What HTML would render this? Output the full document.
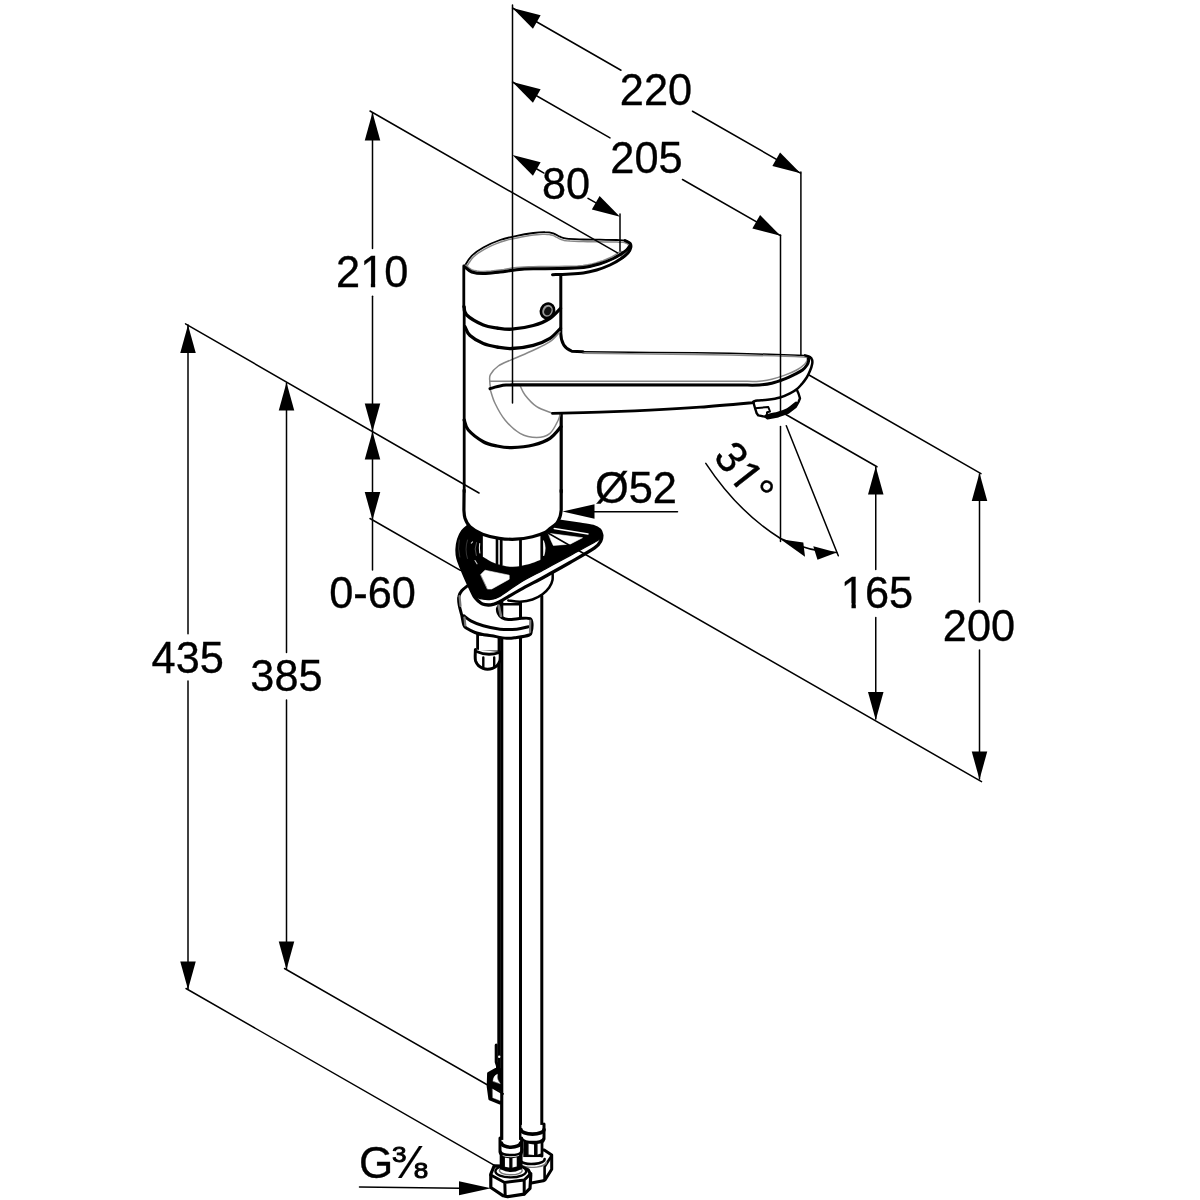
<!DOCTYPE html>
<html lang="en"><head><meta charset="utf-8"><title>Dimensional drawing</title>
<style>
html,body{margin:0;padding:0;background:#fff;}
body{width:1200px;height:1200px;overflow:hidden;}
svg{display:block;will-change:transform;}
text{font-family:"Liberation Sans",Arial,Helvetica,sans-serif;fill:#000;stroke:#000;stroke-width:0.35px;}
path,line{stroke-linecap:round;stroke-linejoin:round;}
</style></head><body>
<svg width="1200" height="1200" viewBox="0 0 1200 1200">
<rect width="1200" height="1200" fill="#fff"/>
<g id="faucet">
<g id="hoses">
<path d="M503 598 L503 1146 L520.5 1146 L520.5 598 Z" stroke="#fff" stroke-width="0.1" fill="#fff" />
<path d="M520.5 596 L520.5 1133 L541.8 1133 L541.8 596 Z" stroke="#fff" stroke-width="0.1" fill="#fff" />
<line x1="501.7" y1="600" x2="501.7" y2="1146" stroke="#000" stroke-width="3.2"/>
<line x1="498.7" y1="640" x2="498.7" y2="1072" stroke="#000" stroke-width="2.8"/>
<line x1="520.5" y1="600" x2="520.5" y2="1146" stroke="#000" stroke-width="3.0"/>
<line x1="541.8" y1="596" x2="541.8" y2="1133" stroke="#000" stroke-width="3.0"/>
</g>
<g id="handle">
<path d="M465.0 265.5 C466.0 263.6 468.6 258.8 471.7 255.8 C474.8 252.8 478.6 250.1 483.3 247.5 C488.0 244.9 494.4 241.9 500.0 240.0 C505.6 238.1 511.2 237.0 516.7 235.8 C522.2 234.6 528.6 233.6 533.3 233.0 C538.0 232.4 541.7 232.1 545.0 232.2 C548.3 232.2 550.8 232.6 553.3 233.3 C555.8 234.1 557.8 235.8 560.0 236.7 C562.2 237.6 562.8 238.2 566.7 238.7 C570.6 239.2 577.8 239.3 583.3 239.5 C588.8 239.7 594.4 239.6 600.0 239.7 C605.6 239.8 612.5 239.9 616.7 240.0 C620.9 240.1 622.8 239.9 625.0 240.5 C627.2 241.1 629.0 242.1 630.0 243.3 C631.0 244.5 631.1 246.0 630.8 247.5 C630.5 249.0 629.8 250.7 628.3 252.5 C626.8 254.3 622.8 258.1 621.7 258.3 C620.6 258.5 623.1 253.5 621.7 253.5 C620.3 253.5 616.9 256.8 613.3 258.5 C609.7 260.2 605.0 262.3 600.0 263.8 C595.0 265.3 590.2 266.7 583.3 267.5 C576.3 268.3 566.6 268.4 558.3 268.6 C550.0 268.8 540.2 268.6 533.3 268.8 C526.4 269.0 522.2 269.2 516.7 269.7 C511.2 270.2 505.6 271.4 500.0 272.0 C494.4 272.6 488.0 273.6 483.3 273.6 C478.6 273.6 474.7 273.0 471.7 272.0 C468.7 271.0 466.6 268.6 465.5 267.5 C464.4 266.4 464.0 267.4 465.0 265.5Z" stroke="#000" stroke-width="1.8" fill="#fff" />
<path d="M466.8 266.5 L467.9 264.6 L469.4 262.2 L471.2 259.6 L473.2 257.3 L475.5 255.2 L478.1 253.2 L481.0 251.3 L484.3 249.3 L488.1 247.4 L492.2 245.4 L496.5 243.6 L500.7 242.0 L504.8 240.7 L508.8 239.6 L513.0 238.7 L517.1 237.9 L521.4 237.0 L525.7 236.3 L529.8 235.6 L533.6 235.1 L536.9 234.7 L539.8 234.5 L542.5 234.3 L545.0 234.3 L547.2 234.4 L549.2 234.6 L551.0 234.9 L552.6 235.3 L554.2 235.9 L555.7 236.8 L557.4 237.7 L559.1 238.6 L560.6 239.3 L562.0 239.8 L563.9 240.4 L566.5 240.8 L570.0 241.1 L574.3 241.3 L578.8 241.5 L583.2 241.6 L587.4 241.7 L591.6 241.7 L595.8 241.8 L600.0 241.8 L604.3 241.9 L608.8 241.9 L613.1 242.0 L616.7 242.1 L619.4 242.2 L621.5 242.2 L623.1 242.3 L624.5 242.5 L625.8 243.0 L626.9 243.5 L627.8 244.1 L628.4 244.6 L628.7 245.1 L628.8 245.6 L628.8 246.3 L628.7 247.1 L628.5 248.0 L628.1 249.0 L627.5 250.0 L626.7 251.1 L625.3 252.7 L623.4 254.5 L621.7 255.9 L621.6 256.2 L623.5 257.7 L623.9 256.4 L624.2 254.2 L621.9 251.4 L619.3 252.2 L617.2 253.6 L614.8 255.2 L612.3 256.6 L609.5 257.9 L606.4 259.3 L603.0 260.6 L599.4 261.8 L595.7 262.9 L591.9 263.9 L587.8 264.7 L583.1 265.4 L577.5 265.9 L571.2 266.2 L564.7 266.3 L558.3 266.5 L551.8 266.6 L545.3 266.6 L538.9 266.6 L533.3 266.7 L528.5 266.8 L524.4 267.0 L520.5 267.3 L516.5 267.6 L512.3 268.1 L508.0 268.7 L503.9 269.4 L499.7 269.9 L495.5 270.4 L491.1 271.0 L487.0 271.3 L483.3 271.5 L480.1 271.4 L477.1 271.1 L474.6 270.6 L472.4 270.0 L470.7 269.2 L469.2 268.1 L468.0 267.0 L466.9 265.9 L465.9 265.2 L466.2 265.7 L466.4 267.3Z" stroke="#888888" stroke-width="1.5" fill="none" />
<path d="M629.3 246.5 C628.8 247.1 627.8 248.8 626.5 250.0 C625.2 251.2 623.9 252.1 621.7 253.5 C619.5 254.9 616.9 256.8 613.3 258.5 C609.7 260.2 605.0 262.3 600.0 263.8 C595.0 265.3 590.2 266.7 583.3 267.5 C576.3 268.3 566.6 268.4 558.3 268.6 C550.0 268.8 540.2 268.6 533.3 268.8 C526.4 269.0 522.2 269.2 516.7 269.7 C511.2 270.2 505.6 271.4 500.0 272.0 C494.4 272.6 488.0 273.6 483.3 273.6 C478.6 273.6 474.7 273.0 471.7 272.0 C468.7 271.0 466.5 268.2 465.5 267.5" stroke="#000" stroke-width="3.0" fill="none" />
<path d="M552.5 274.7 C554.9 274.6 561.6 274.5 566.7 274.2 C571.8 273.9 578.3 273.7 583.3 273.0 C588.3 272.3 592.2 271.3 596.7 270.0 C601.2 268.7 605.8 266.9 610.0 265.0 C614.2 263.1 618.7 260.4 621.7 258.3 C624.8 256.2 626.8 254.3 628.3 252.5 C629.8 250.7 630.5 249.0 630.8 247.5 C631.1 246.0 631.0 244.5 630.0 243.3 C629.0 242.1 625.8 241.0 625.0 240.5" stroke="#000" stroke-width="3.0" fill="none" />
</g>
<g id="body">
<path d="M463.8 266 L463.8 307 M464.2 307 L464.2 492" stroke="#000" stroke-width="2.8" fill="none" />
<path d="M560.8 275 L560.8 333.3 C561 342 563.5 348.3 571.7 351.2 L583 351.8" stroke="#000" stroke-width="3.0" fill="none" />
<path d="M561.2 414 L561.2 492" stroke="#000" stroke-width="3.2" fill="none" />
<path d="M464.0 306.7 C464.4 308.1 463.5 311.9 466.7 315.0 C469.9 318.1 478.2 322.8 483.3 325.0 C488.4 327.2 492.3 327.3 497.0 328.0 C501.7 328.7 505.6 329.6 511.7 329.2 C517.8 328.8 526.9 327.3 533.3 325.5 C539.7 323.7 545.5 321.2 550.0 318.3 C554.5 315.4 558.8 310.0 560.5 308.3" stroke="#000" stroke-width="3.3" fill="none" />
<path d="M465.0 326.7 C465.8 328.2 466.9 332.7 470.0 335.5 C473.1 338.3 478.8 341.7 483.3 343.6 C487.8 345.5 492.3 346.2 497.0 347.0 C501.7 347.8 505.6 348.8 511.7 348.5 C517.8 348.2 526.9 347.0 533.3 345.3 C539.7 343.6 545.5 341.1 550.0 338.3 C554.5 335.5 558.8 330.0 560.5 328.3" stroke="#000" stroke-width="3.3" fill="none" />
<path d="M464.2 420.0 C464.9 421.7 465.1 426.4 468.3 430.0 C471.5 433.6 478.5 439.0 483.3 441.7 C488.1 444.4 492.3 445.0 497.0 446.0 C501.7 447.0 505.6 447.8 511.7 447.6 C517.8 447.4 526.9 446.6 533.3 445.0 C539.7 443.4 545.4 441.4 550.0 438.3 C554.6 435.2 559.2 428.6 561.0 426.7" stroke="#000" stroke-width="3.3" fill="none" />
<ellipse cx="547.5" cy="310.8" rx="6.4" ry="7.4" transform="rotate(25 547.5 310.8)" fill="#999" stroke="#000" stroke-width="2.6"/>
<ellipse cx="547.8" cy="311" rx="3.4" ry="4.4" transform="rotate(25 547.8 311)" fill="#111"/>
<path d="M490.6 388.7 C490.5 387.5 489.8 384.0 489.8 381.7 C489.8 379.4 489.0 377.2 490.4 374.6 C491.8 372.0 494.8 368.5 498.3 366.0 C501.9 363.5 505.9 362.2 511.7 359.6 C517.5 357.0 526.9 353.2 533.3 350.2 C539.7 347.2 545.5 344.8 550.0 341.7 C554.5 338.6 558.3 333.4 560.0 331.7" stroke="#888888" stroke-width="1.5" fill="none" />
<path d="M490.0 388.7 C490.8 391.1 492.5 398.1 495.0 403.3 C497.5 408.5 500.8 415.0 505.0 420.0 C509.2 425.0 514.7 430.4 520.0 433.3 C525.3 436.2 531.7 437.5 536.7 437.5 C541.7 437.5 546.4 436.2 550.0 433.3 C553.6 430.4 556.6 423.2 558.3 420.0 C560.0 416.8 559.7 415.2 560.0 414.2" stroke="#888888" stroke-width="1.5" fill="none" />
<path d="M520.0 385.3 C520.8 386.9 522.2 391.4 525.0 395.0 C527.8 398.6 532.2 403.7 536.7 406.7 C541.2 409.7 549.2 411.9 551.7 413.0" stroke="#888888" stroke-width="1.5" fill="none" />
</g>
<g id="spout">
<path d="M583.0 351.7 C594.2 351.8 625.5 352.2 650.0 352.5 C674.5 352.8 704.2 352.8 730.0 353.3 C755.8 353.8 792.5 355.0 805.0 355.4" stroke="#000" stroke-width="1.5" fill="none" />
<path d="M583.0 353.2 C594.2 353.3 625.5 353.7 650.0 354.0 C674.5 354.3 704.5 354.4 730.0 354.9 C755.5 355.4 790.1 356.4 803.0 357.0 C815.9 357.6 806.8 358.2 807.5 358.4" stroke="#888888" stroke-width="1.5" fill="none" />
<path d="M805.0 355.4 C805.8 355.7 808.8 356.3 810.0 357.1 C811.2 357.9 811.8 358.8 812.1 360.0 C812.5 361.2 812.5 362.4 812.1 364.2 C811.8 366.0 810.9 368.6 810.0 370.8 C809.1 373.0 808.1 375.3 806.7 377.5 C805.3 379.7 803.4 382.2 801.7 384.2 C800.0 386.1 798.7 387.7 796.7 389.2 C794.8 390.7 792.8 391.9 790.0 393.3 C787.2 394.7 783.8 396.4 780.0 397.5 C776.2 398.6 771.2 399.3 767.5 399.8 C763.8 400.3 759.9 400.3 757.5 400.6 C755.1 400.9 754.0 401.4 753.3 401.6" stroke="#000" stroke-width="2.5" fill="none" />
<path d="M490 381.3 L745 381.3  L745.0 381.3 C747.4 381.3 754.8 381.6 759.2 381.2 C763.7 380.8 767.5 380.2 771.7 379.2 C775.9 378.2 780.0 376.9 784.2 375.4 C788.4 373.9 793.3 371.9 796.7 370.0 C800.1 368.1 802.9 365.8 804.6 364.2 C806.3 362.6 806.6 361.5 807.0 360.6 C807.4 359.7 807.2 359.1 807.2 358.8" stroke="#888888" stroke-width="1.5" fill="none" />
<path d="M490.0 388.7 C490.8 388.4 493.3 387.6 495.0 387.1 C496.7 386.6 498.2 386.2 500.0 385.9 C501.8 385.6 504.0 385.3 506.0 385.1 C508.0 384.9 511.0 384.9 512.0 384.8 L745 385.1  L745.0 385.1 C747.4 385.1 754.8 385.3 759.2 385.0 C763.7 384.7 767.5 384.3 771.7 383.3 C775.9 382.3 780.3 380.7 784.2 379.2 C788.1 377.7 792.0 375.7 795.0 374.2 C798.0 372.7 800.5 371.5 802.5 370.0 C804.5 368.5 806.0 366.5 807.0 365.0 C808.0 363.5 808.4 362.1 808.6 361.0 C808.8 359.9 808.4 359.0 808.4 358.6" stroke="#000" stroke-width="3.0" fill="none" />
<path d="M552.5 413.4 C560.4 413.2 583.8 412.7 600.0 412.2 C616.2 411.7 633.3 411.0 650.0 410.2 C666.7 409.4 682.8 408.5 700.0 407.2 C717.2 405.9 744.4 403.4 753.3 402.6" stroke="#000" stroke-width="2.8" fill="none" />
<path d="M753.3 402.0 L755.0 408.0 L756.7 413.3 L758.3 415.4 L765.8 416.9 L767.5 418.3 L778.3 416.2 L788.3 412.5 L795.8 406.7 L798.5 402.0 L800.0 398.3 L798.5 393.5 L796.7 389.6" stroke="#000" stroke-width="2.4" fill="none" />
<path d="M766.5 416.2 C768.4 415.8 774.4 414.8 778.0 413.8 C781.6 412.8 785.0 411.7 788.0 410.0 C791.0 408.3 794.7 404.8 796.0 403.8" stroke="#000" stroke-width="4.2" fill="none" />
<path d="M755.0 408.3 L768.3 407.0 L770.0 411.5 L767.0 412.3 L767.0 414.5" stroke="#000" stroke-width="2.0" fill="none" />
<path d="M759 411.6 L766.5 410.8" stroke="#fff" stroke-width="1.0" fill="none" />
</g>
<g id="bracket">
<path d="M477.6 634 L477.6 652 L499 652 L499 636 Z" stroke="#000" stroke-width="2.8" fill="#fff" />
<path d="M475.4 649.5 C475.4 650.6 475.2 654.1 475.2 656.0 C475.2 657.9 475.1 659.4 475.6 661.0 C476.2 662.6 477.3 664.4 478.5 665.6 C479.7 666.8 481.5 667.7 483.0 668.3 C484.5 668.9 485.9 669.2 487.5 669.2 C489.1 669.2 490.9 668.9 492.5 668.3 C494.1 667.7 495.7 667.0 496.9 665.8 C498.1 664.6 499.2 662.6 499.8 661.0 C500.4 659.4 500.2 657.5 500.2 656.0 C500.2 654.5 500.0 652.7 500.0 652.0" stroke="#000" stroke-width="3.0" fill="#fff" />
<path d="M476.5 651.5 Q487.5 656.5 499.5 652.5" stroke="#000" stroke-width="2.8" fill="none" />
<path d="M483.3 657.5 L483.3 667 M494.2 657.5 L494.2 667" stroke="#000" stroke-width="2.4" fill="none" />
<path d="M467.5 585.8 C466.5 586.6 463.2 589.0 461.7 590.8 C460.2 592.6 459.2 594.3 458.8 596.7 C458.3 599.1 458.7 602.0 459.2 605.0 C459.7 608.0 460.9 611.7 461.7 615.0 C462.5 618.3 462.9 622.8 463.8 625.0 C464.6 627.2 464.8 627.0 466.7 628.3 C468.6 629.5 472.5 631.5 475.0 632.5 C477.5 633.5 478.9 633.7 481.7 634.2 C484.5 634.8 487.5 635.1 491.7 635.8 C495.9 636.5 502.5 638.0 506.7 638.3 C510.9 638.6 513.0 638.0 516.7 637.5 C520.5 637.0 526.8 636.0 529.2 635.0 C531.6 634.0 530.8 633.7 531.2 631.7 C531.7 629.8 532.2 625.5 532.0 623.3 C531.8 621.1 531.7 619.4 530.0 618.6 C528.3 617.8 525.3 618.1 521.7 618.3 C518.1 618.5 511.6 619.7 508.3 619.6 C505.0 619.5 503.4 618.5 501.7 617.5 C500.0 616.5 499.0 614.8 498.3 613.3 C497.6 611.8 497.2 609.8 497.5 608.3 C497.8 606.8 499.6 604.9 500.0 604.2 L480 598 Z" stroke="#fff" stroke-width="0.1" fill="#fff" />
<path d="M467.5 585.8 C466.5 586.6 463.2 589.0 461.7 590.8 C460.2 592.6 459.2 594.3 458.8 596.7 C458.3 599.1 458.7 602.0 459.2 605.0 C459.7 608.0 460.9 611.7 461.7 615.0 C462.5 618.3 462.9 622.8 463.8 625.0 C464.6 627.2 464.8 627.0 466.7 628.3 C468.6 629.5 472.5 631.5 475.0 632.5 C477.5 633.5 478.9 633.7 481.7 634.2 C484.5 634.8 487.5 635.1 491.7 635.8 C495.9 636.5 502.5 638.0 506.7 638.3 C510.9 638.6 513.0 638.0 516.7 637.5 C520.5 637.0 526.8 636.0 529.2 635.0 C531.6 634.0 530.8 633.7 531.2 631.7 C531.7 629.8 532.2 625.5 532.0 623.3 C531.8 621.1 531.7 619.4 530.0 618.6 C528.3 617.8 525.3 618.1 521.7 618.3 C518.1 618.5 511.6 619.7 508.3 619.6 C505.0 619.5 503.4 618.5 501.7 617.5 C500.0 616.5 499.0 614.8 498.3 613.3 C497.6 611.8 497.2 609.8 497.5 608.3 C497.8 606.8 499.6 604.9 500.0 604.2" stroke="#000" stroke-width="3.0" fill="none" />
<path d="M463.8 615.8 C464.9 616.6 467.5 619.1 470.8 620.8 C474.1 622.5 478.4 624.4 483.3 625.8 C488.2 627.2 494.4 628.6 500.0 629.2 C505.6 629.8 512.0 629.6 516.7 629.2 C521.4 628.8 526.4 627.1 528.3 626.7" stroke="#000" stroke-width="3.0" fill="none" />
<path d="M501 604.3 L519.8 604.3" stroke="#000" stroke-width="2.4" fill="none" />
<path d="M459.5 596 L460.5 606 M464.5 617.5 L465.3 625.5 M530.3 620.5 L530 632" stroke="#777" stroke-width="2.2" fill="none" />
<path d="M498.6 605.5 L501 616" stroke="#777" stroke-width="2.6" fill="none" />
</g>
<g id="plate">
<path d="M552.5 571.0 C552.5 572.5 553.0 577.2 552.5 580.0 C552.0 582.8 550.9 585.1 549.2 587.5 C547.5 589.9 545.3 592.2 542.5 594.2 C539.7 596.2 536.2 598.2 532.5 599.5 C528.8 600.8 524.0 601.6 520.0 601.8 C516.0 601.9 510.2 600.6 508.3 600.4" stroke="#000" stroke-width="2.5" fill="#fff" />
<path d="M560.8 521.3 C563.7 521.7 572.6 523.1 578.0 523.9 C583.4 524.7 589.4 525.3 593.0 526.3 C596.6 527.3 598.3 528.5 599.8 530.0 C601.3 531.5 601.5 534.4 601.9 535.3 L601.9 535.3 C601.7 536.2 602.1 538.5 600.9 540.6 C599.7 542.7 599.8 544.2 594.6 547.9 C589.5 551.5 578.3 557.7 570.0 562.5 C561.7 567.3 553.3 571.9 545.0 576.5 C536.7 581.1 527.6 585.6 520.0 589.9 C512.4 594.1 503.7 599.6 499.2 602.0 C494.7 604.4 494.8 603.9 493.0 604.4 C491.2 604.9 490.1 605.1 488.3 605.0 C486.6 604.9 484.1 604.6 482.5 604.0 C480.9 603.4 479.2 601.8 478.6 601.3 L478.6 601.3 C477.9 600.5 475.7 598.9 474.2 596.4 C472.7 593.9 471.3 590.6 469.4 586.5 C467.5 582.4 464.7 576.2 462.8 571.5 C460.9 566.8 458.9 562.0 457.9 558.3 C456.9 554.6 456.9 552.4 457.0 549.2 C457.1 546.1 457.7 542.4 458.6 539.4 C459.5 536.4 461.0 533.4 462.6 531.2 C464.2 529.0 467.1 527.0 468.0 526.2 L500 526 Z" stroke="#000" stroke-width="3.3" fill="#fff" />
<path d="M560.8 521.3 C563.7 521.7 572.6 523.1 578.0 523.9 C583.4 524.7 589.4 525.3 593.0 526.3 C596.6 527.3 598.4 528.6 599.8 530.0 C601.2 531.4 601.3 533.8 601.6 534.5 L601.6 534.5 C601.4 535.1 600.8 537.1 600.3 538.0 C599.8 538.9 603.4 537.0 598.4 539.9 C593.4 542.8 578.9 550.7 570.0 555.6 C561.1 560.5 553.3 564.7 545.0 569.2 C536.7 573.7 527.6 578.1 520.0 582.7 C512.4 587.3 504.1 593.9 499.2 596.7 C494.3 599.5 493.7 599.0 490.8 599.4 C487.9 599.8 484.4 599.4 482.0 599.0 C479.6 598.6 477.5 597.6 476.6 597.3 L476.6 597.3 C476.2 597.1 475.4 598.2 474.2 596.4 C473.0 594.6 471.3 590.6 469.4 586.5 C467.5 582.4 464.7 576.2 462.8 571.5 C460.9 566.8 458.9 562.0 457.9 558.3 C456.9 554.6 456.9 552.4 457.0 549.2 C457.1 546.1 457.7 542.4 458.6 539.4 C459.5 536.4 461.0 533.4 462.6 531.2 C464.2 529.0 467.1 527.0 468.0 526.2 L500 526 Z" stroke="#000" stroke-width="1.2" fill="#000" />
<path d="M480.8 574.4 L485.0 570.2 L509.2 575.2 L509.2 579.2 L491.7 589.0 L487.7 589.0Z" stroke="#fff" stroke-width="0.6" fill="#fff" />
<path d="M548.5 533.3 L582.5 537.7 L570.0 544.2 L553.3 545.4 L550.8 540.0Z" stroke="#fff" stroke-width="0.6" fill="#fff" />
<path d="M554.2 528.6 L588 534" stroke="#fff" stroke-width="1.5" fill="none" />
<path d="M543.6 541 Q546.6 548 543.8 555.5 Z" stroke="#fff" stroke-width="0.8" fill="#fff" />
<path d="M482.9 532 L482.9 556.7  L482.9 556.7 C484.9 557.8 490.2 561.6 495.0 563.3 C499.8 565.0 506.1 566.6 511.7 566.7 C517.2 566.9 523.4 565.4 528.3 564.2 C533.2 563.0 538.9 560.3 541.0 559.5 L541 532 Z" stroke="#fff" stroke-width="0.1" fill="#fff" />
<line x1="497.0" y1="538" x2="497.0" y2="563.5" stroke="#000" stroke-width="2.6"/>
<line x1="501.2" y1="538" x2="501.2" y2="564.8" stroke="#000" stroke-width="2.8"/>
<line x1="520.5" y1="538" x2="520.5" y2="566" stroke="#000" stroke-width="2.8"/>
<line x1="541.5" y1="534" x2="541.5" y2="559.5" stroke="#000" stroke-width="2.2"/>
<path d="M476.5 542.5 Q473.8 549 476.3 555.5" stroke="#fff" stroke-width="0.8" fill="none" opacity="0.4"/>
<path d="M467.5 540 Q464.5 549.5 467.5 558.5 M459.2 540 Q457.6 549 459.8 557" stroke="#fff" stroke-width="0.7" fill="none" opacity="0.3"/>
<path d="M471.3 543.2 L472.6 541.8 M475 560.5 L477 563.8" stroke="#fff" stroke-width="1.1" fill="none" opacity="0.8"/>
<path d="M479.7 543.5 Q479 548.5 479.8 553" stroke="#fff" stroke-width="1.1" fill="none" opacity="0.9"/>
</g>
<path d="M463.9 500  L463.9 510.0 C464.1 511.4 464.0 515.5 465.0 518.3 C466.0 521.1 467.1 524.1 470.0 526.7 C472.9 529.4 477.6 532.3 482.5 534.2 C487.4 536.1 493.6 537.5 499.2 538.3 C504.8 539.1 510.2 539.5 515.8 539.2 C521.3 538.9 527.6 537.8 532.5 536.7 C537.4 535.6 542.2 533.8 545.0 532.5 C547.8 531.2 547.2 530.7 549.2 529.2 C551.2 527.7 554.9 525.4 556.7 523.3 C558.5 521.2 559.2 518.9 560.0 516.7 C560.8 514.5 561.0 511.1 561.2 510.0 L561.2 500 Z" stroke="#fff" stroke-width="0.1" fill="#fff" />
<path d="M464.1 490 L463.9 510  L463.9 510.0 C464.1 511.4 464.0 515.5 465.0 518.3 C466.0 521.1 467.1 524.1 470.0 526.7 C472.9 529.4 477.6 532.3 482.5 534.2 C487.4 536.1 493.6 537.5 499.2 538.3 C504.8 539.1 510.2 539.5 515.8 539.2 C521.3 538.9 527.6 537.8 532.5 536.7 C537.4 535.6 542.2 533.8 545.0 532.5 C547.8 531.2 547.2 530.7 549.2 529.2 C551.2 527.7 554.9 525.4 556.7 523.3 C558.5 521.2 559.2 518.9 560.0 516.7 C560.8 514.5 561.0 511.1 561.2 510.0 L561.2 490" stroke="#000" stroke-width="3.2" fill="none" />
<g id="nuts">
<path d="M496.2 1045 L496.2 1062 L497.5 1066 L497.5 1070" stroke="#000" stroke-width="3.0" fill="none" />
<circle cx="499.2" cy="1056.8" r="1.2" fill="#fff"/>
<path d="M495.4 1069.2 L488.3 1073.3 L487.9 1086.7 L489.6 1099.2 L500.0 1103.3 L500.0 1069.2Z" stroke="#000" stroke-width="2.4" fill="#000" />
<path d="M493 1081 Q493.5 1075.5 497.5 1074.3 Q496.3 1079 500 1083.5 Z" stroke="#fff" stroke-width="0.4" fill="#fff" />
<path d="M492.7 1088.6 L500.0 1091.6 L500.0 1100.6 L492.9 1097.8Z" stroke="#fff" stroke-width="0.4" fill="#fff" />
<path d="M544.2 1150.0 L551.7 1155.0 L551.7 1169.2 L545.0 1180.0 L543.3 1180.8 L530.0 1183.3 L521.0 1180.0 L521.0 1150.0Z" stroke="#000" stroke-width="3.0" fill="#fff" />
<path d="M544.6 1166.7 L544.6 1180 M551.5 1156 L544.6 1166.7" stroke="#000" stroke-width="2.6" fill="none" />
<path d="M520.5 1161 A12.5 4.8 0 0 0 544.6 1159" stroke="#000" stroke-width="2.6" fill="none"/>
<path d="M520.5 1164.6 A14 5.6 0 0 0 546.5 1161.5" stroke="#777" stroke-width="1.4" fill="none"/>
<path d="M521.5 1125 L521.5 1140 L523.3 1142 L523.3 1157 L541.9 1157 L541.9 1142 L544 1140 L544 1125 Z" stroke="#fff" stroke-width="0.1" fill="#fff" />
<path d="M544 1124 L544 1139 Q543 1141.5 541.9 1142.5 L541.9 1156" stroke="#000" stroke-width="3.0" fill="none" />
<path d="M521 1129.5 A11.5 4.6 0 0 0 544 1129.5" stroke="#000" stroke-width="3.6" fill="none"/>
<path d="M522 1138.8 A11 4 0 0 0 543.6 1138.8" stroke="#000" stroke-width="2.6" fill="none"/>
<path d="M523.3 1142 L523.3 1157 L541.9 1157 L541.9 1142 Z" stroke="#000" stroke-width="0.1" fill="#000" />
<path d="M528.6 1143.8 L534 1144.4 L534 1155 L528.6 1154.6 Z M537.6 1144 L540.6 1143.4 L540.6 1153.6 L537.6 1154.6 Z" stroke="#fff" stroke-width="0.1" fill="#fff" />
<path d="M494.2 1165.8 L490.8 1174.2 L490.8 1187.5 L503.3 1195.8 L507.5 1196.7 L524.2 1194.2 L530.0 1188.3 L530.8 1175.0 L528.3 1170.0 L521.7 1166.7Z" stroke="#000" stroke-width="3.2" fill="#fff" />
<path d="M490.8 1175 L504.6 1182.5 L524.2 1180 L530.8 1173.6 M504.8 1182.5 L505.2 1196 M524.2 1180 L524.2 1194" stroke="#000" stroke-width="3.0" fill="none" />
<ellipse cx="510.8" cy="1171.2" rx="15.4" ry="6.2" fill="#fff" stroke="#000" stroke-width="2.4"/>
<ellipse cx="510.8" cy="1170.6" rx="11.4" ry="4.2" fill="#fff" stroke="#777" stroke-width="1.4"/>
<path d="M499.8 1140 L499.8 1152 L501 1153.5 L501 1169 L520.8 1169 L520.8 1153.5 L521.8 1152 L521.8 1140 Z" stroke="#fff" stroke-width="0.1" fill="#fff" />
<path d="M500 1138 L500 1152 Q500.5 1154 501.2 1155 L501.2 1168 M521.6 1138 L521.6 1152 Q521 1154 520.6 1155 L520.6 1168" stroke="#000" stroke-width="3.0" fill="none" />
<path d="M501.5 1143 A9.5 4.2 0 0 0 520.5 1143" stroke="#000" stroke-width="3.6" fill="none"/>
<path d="M500.5 1151.6 A10.5 4 0 0 0 521.3 1151.6" stroke="#000" stroke-width="2.6" fill="none"/>
<path d="M501.2 1155.5 L501.2 1169.5 Q510.8 1174.5 520.6 1169.5 L520.6 1155.5 Q510.8 1159 501.2 1155.5 Z" stroke="#000" stroke-width="0.1" fill="#000" />
<path d="M505 1157.8 L509.2 1158.3 L509.2 1167.5 L505 1166.8 Z M512.5 1158.3 L516.7 1157.6 L516.7 1166.6 L512.5 1167.6 Z" stroke="#fff" stroke-width="0.1" fill="#fff" />
</g>
</g>
<g id="dims">
<line x1="512.5" y1="5" x2="512.5" y2="403" stroke="#000" stroke-width="1.5"/>
<line x1="512.5" y1="8" x2="621" y2="70.22475" stroke="#000" stroke-width="1.5"/>
<line x1="692.5" y1="111.23" x2="800.5" y2="173.168" stroke="#000" stroke-width="1.5"/>
<polygon points="512.50,8.00 540.64,15.21 532.93,28.65" fill="#000"/>
<polygon points="800.50,173.17 772.36,165.96 780.07,152.52" fill="#000"/>
<g><text x="619.84" y="104.5" font-size="44" textLength="72.31" lengthAdjust="spacingAndGlyphs">220</text>
</g>
<line x1="800.9" y1="172" x2="800.9" y2="355" stroke="#000" stroke-width="1.5"/>
<line x1="512.5" y1="82" x2="610" y2="137.91625" stroke="#000" stroke-width="1.5"/>
<line x1="682.5" y1="179.495" x2="780.5" y2="235.698" stroke="#000" stroke-width="1.5"/>
<polygon points="512.50,82.00 540.64,89.21 532.93,102.65" fill="#000"/>
<polygon points="780.50,235.70 752.36,228.49 760.07,215.05" fill="#000"/>
<g><text x="610.34" y="172.5" font-size="44" textLength="72.31" lengthAdjust="spacingAndGlyphs">205</text>
</g>
<line x1="780.5" y1="235" x2="780.5" y2="415.2" stroke="#000" stroke-width="1.5"/>
<line x1="780.5" y1="426.5" x2="780.5" y2="541.5" stroke="#000" stroke-width="1.5"/>
<polygon points="512.50,155.00 540.64,162.21 532.93,175.65" fill="#000"/>
<line x1="536" y1="168.47725" x2="544" y2="173.06525" stroke="#000" stroke-width="1.5"/>
<line x1="588" y1="198.29925" x2="600" y2="205.18125" stroke="#000" stroke-width="1.5"/>
<polygon points="620.00,216.65 591.86,209.44 599.57,196.00" fill="#000"/>
<g><text x="541.90" y="199" font-size="44" textLength="48.21" lengthAdjust="spacingAndGlyphs">80</text>
</g>
<line x1="620" y1="214" x2="620" y2="251" stroke="#000" stroke-width="1.5"/>
<line x1="372.5" y1="113" x2="372.5" y2="248.5" stroke="#000" stroke-width="1.5"/>
<line x1="372.5" y1="296.3" x2="372.5" y2="431" stroke="#000" stroke-width="1.5"/>
<polygon points="372.50,112.50 380.25,140.50 364.75,140.50" fill="#000"/>
<polygon points="372.50,431.50 364.75,403.50 380.25,403.50" fill="#000"/>
<g><text x="336.09" y="287" font-size="44" textLength="72.31" lengthAdjust="spacingAndGlyphs">210</text>
<rect x="362.31" y="282.60" width="8.53" height="6.60" fill="#fff"/>
<rect x="375.18" y="282.60" width="8.44" height="6.60" fill="#fff"/>
</g>
<line x1="370" y1="111" x2="617.5" y2="252.94125" stroke="#000" stroke-width="1.5"/>
<polygon points="372.50,431.50 380.25,459.50 364.75,459.50" fill="#000"/>
<polygon points="372.50,520.00 364.75,492.00 380.25,492.00" fill="#000"/>
<line x1="372.5" y1="431" x2="372.5" y2="570" stroke="#000" stroke-width="1.5"/>
<g><text x="329.13" y="607.5" font-size="44" textLength="86.74" lengthAdjust="spacingAndGlyphs">0-60</text>
</g>
<line x1="370" y1="518.5" x2="460.4" y2="570.3444" stroke="#000" stroke-width="1.5"/>
<line x1="188" y1="325" x2="188" y2="633.75" stroke="#000" stroke-width="1.5"/>
<line x1="188" y1="681" x2="188" y2="989" stroke="#000" stroke-width="1.5"/>
<polygon points="188.00,325.00 195.75,353.00 180.25,353.00" fill="#000"/>
<polygon points="188.00,989.50 180.25,961.50 195.75,961.50" fill="#000"/>
<g><text x="151.59" y="672.5" font-size="44" textLength="72.31" lengthAdjust="spacingAndGlyphs">435</text>
</g>
<line x1="185.5" y1="323.8" x2="479" y2="493.00275" stroke="#000" stroke-width="1.5"/>
<line x1="186" y1="988.5" x2="494" y2="1165.138" stroke="#000" stroke-width="1.5"/>
<line x1="286.5" y1="383" x2="286.5" y2="652.5" stroke="#000" stroke-width="1.5"/>
<line x1="286.5" y1="700" x2="286.5" y2="969" stroke="#000" stroke-width="1.5"/>
<polygon points="286.50,382.50 294.25,410.50 278.75,410.50" fill="#000"/>
<polygon points="286.50,969.50 278.75,941.50 294.25,941.50" fill="#000"/>
<g><text x="250.34" y="690.5" font-size="44" textLength="72.31" lengthAdjust="spacingAndGlyphs">385</text>
</g>
<line x1="284.5" y1="968.5" x2="503.3" y2="1093.9818" stroke="#000" stroke-width="1.5"/>
<text font-size="44"><tspan x="359" y="1178">G</tspan><tspan x="392.1" y="1162.2" font-size="22.7" textLength="14.52" lengthAdjust="spacingAndGlyphs" style="stroke-width:0.9px">3</tspan><tspan x="408.0" y="1178.4" font-size="46.9" textLength="8.15" lengthAdjust="spacingAndGlyphs" style="stroke-width:0.15px">&#x2044;</tspan><tspan x="413.8" y="1177.9" font-size="22.7" textLength="14.52" lengthAdjust="spacingAndGlyphs" style="stroke-width:0.9px">8</tspan></text>
<line x1="359.5" y1="1186.9" x2="460" y2="1188.2" stroke="#000" stroke-width="1.5"/>
<polygon points="491.00,1188.30 459.00,1195.30 459.00,1181.30" fill="#000"/>
<g><text x="595.04" y="502.5" font-size="44" textLength="81.92" lengthAdjust="spacingAndGlyphs">&#xD8;52</text>
</g>
<line x1="594" y1="511.75" x2="677.5" y2="511.75" stroke="#000" stroke-width="1.5"/>
<polygon points="562.50,511.50 594.50,504.25 594.50,518.75" fill="#000"/>
<line x1="875.75" y1="467" x2="875.75" y2="569.5" stroke="#000" stroke-width="1.5"/>
<line x1="875.75" y1="617.5" x2="875.75" y2="719" stroke="#000" stroke-width="1.5"/>
<polygon points="875.75,466.50 883.50,494.50 868.00,494.50" fill="#000"/>
<polygon points="875.75,720.00 868.00,692.00 883.50,692.00" fill="#000"/>
<g><text x="840.84" y="607.5" font-size="44" textLength="72.31" lengthAdjust="spacingAndGlyphs">165</text>
<rect x="842.96" y="603.10" width="8.53" height="6.60" fill="#fff"/>
<rect x="855.82" y="603.10" width="8.44" height="6.60" fill="#fff"/>
</g>
<line x1="785" y1="414" x2="877" y2="466.762" stroke="#000" stroke-width="1.5"/>
<line x1="979.5" y1="474" x2="979.5" y2="602" stroke="#000" stroke-width="1.5"/>
<line x1="979.5" y1="650" x2="979.5" y2="779" stroke="#000" stroke-width="1.5"/>
<polygon points="979.50,473.00 987.25,501.00 971.75,501.00" fill="#000"/>
<polygon points="979.50,779.50 971.75,751.50 987.25,751.50" fill="#000"/>
<g><text x="942.84" y="640.75" font-size="44" textLength="72.31" lengthAdjust="spacingAndGlyphs">200</text>
</g>
<line x1="809" y1="375" x2="981" y2="473.642" stroke="#000" stroke-width="1.5"/>
<line x1="548" y1="533" x2="981.5" y2="781.61225" stroke="#000" stroke-width="1.5"/>
<line x1="786.3" y1="425.8" x2="838.3" y2="555.8" stroke="#000" stroke-width="1.5"/>
<path d="M705.8 463.3 Q738 512 780.5 538.5 Q810 552 836.7 552.5" stroke="#000" stroke-width="1.5" fill="none" />
<polygon points="780.5,539.2 803.3,542.5 805,556.7" fill="#000"/>
<polygon points="836.7,552.5 813.3,546.3 817.5,559.7" fill="#000"/>
<g transform="rotate(52 732.4 482.7)"><text x="699.63" y="482.7" font-size="44" textLength="65.54" lengthAdjust="spacingAndGlyphs">31&#xB0;</text>
<rect x="725.85" y="478.30" width="8.53" height="6.60" fill="#fff"/>
<rect x="738.71" y="478.30" width="8.44" height="6.60" fill="#fff"/>
</g>
</g>
</svg>
</body></html>
